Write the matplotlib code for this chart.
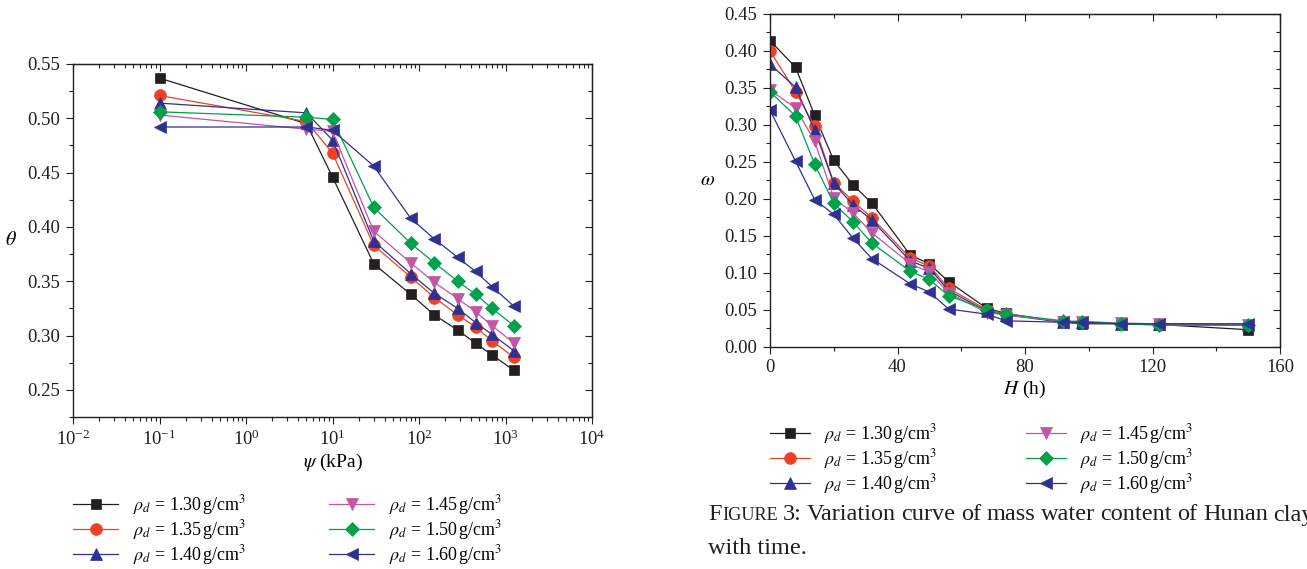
import matplotlib
matplotlib.use("Agg")
import matplotlib.pyplot as plt
from matplotlib.ticker import MultipleLocator, LogLocator, NullFormatter
from matplotlib.lines import Line2D

plt.rcParams['font.family'] = ['Liberation Serif', 'DejaVu Serif']
plt.rcParams['mathtext.fontset'] = 'stix'

# ---------------- data ----------------
labels = ["1.30", "1.35", "1.40", "1.45", "1.50", "1.60"]

# left panel: soil-water characteristic (suction psi in kPa vs theta)
psi = [0.1, 5, 10, 30, 80, 150, 280, 450, 700, 1250]
theta_130 = [0.537, 0.495, 0.446, 0.366, 0.338, 0.319, 0.305, 0.293, 0.282, 0.268]
theta_135 = [0.521, 0.497, 0.468, 0.383, 0.354, 0.335, 0.319, 0.308, 0.295, 0.280]
theta_140 = [0.514, 0.505, 0.480, 0.387, 0.357, 0.339, 0.325, 0.312, 0.301, 0.286]
theta_145 = [0.503, 0.490, 0.488, 0.396, 0.367, 0.349, 0.334, 0.322, 0.309, 0.293]
theta_150 = [0.506, 0.501, 0.499, 0.418, 0.385, 0.367, 0.350, 0.338, 0.325, 0.309]
theta_160 = [0.492, 0.492, 0.489, 0.456, 0.408, 0.389, 0.372, 0.359, 0.345, 0.327]

# right panel: mass water content vs time H (h)
hours = [0, 8, 14, 20, 26, 32, 44, 50, 56, 68, 74, 92, 98, 110, 122, 150]
w_130 = [0.414, 0.378, 0.313, 0.252, 0.219, 0.194, 0.124, 0.112, 0.088, 0.052, 0.045, 0.033, 0.031, 0.031, 0.030, 0.023]
w_135 = [0.400, 0.345, 0.298, 0.222, 0.197, 0.174, 0.120, 0.109, 0.079, 0.050, 0.044, 0.034, 0.033, 0.031, 0.030, 0.029]
w_140 = [0.382, 0.351, 0.293, 0.221, 0.192, 0.171, 0.116, 0.106, 0.076, 0.048, 0.043, 0.033, 0.033, 0.031, 0.031, 0.030]
w_145 = [0.347, 0.323, 0.278, 0.201, 0.181, 0.154, 0.112, 0.101, 0.073, 0.046, 0.043, 0.034, 0.034, 0.032, 0.031, 0.030]
w_150 = [0.345, 0.312, 0.247, 0.194, 0.169, 0.140, 0.102, 0.091, 0.069, 0.050, 0.044, 0.035, 0.034, 0.031, 0.029, 0.029]
w_160 = [0.320, 0.251, 0.199, 0.179, 0.147, 0.119, 0.085, 0.074, 0.051, 0.044, 0.035, 0.033, 0.033, 0.031, 0.031, 0.031]

theta_series = [theta_130, theta_135, theta_140, theta_145, theta_150, theta_160]
w_series = [w_130, w_135, w_140, w_145, w_150, w_160]

colors = ["#231f20", "#ef4123", "#2e3192", "#c255a5", "#00a14b", "#2e3192"]
markers = ["s", "o", "^", "v", "D", "<"]
msizes = [7.5, 8.5, 8.5, 8.5, 7.5, 8.5]

W, H = 1307, 569
fig = plt.figure(figsize=(W / 100, H / 100), dpi=100)

FS = 13.5
INK = '#231f20'


def style_axes(ax):
    ax.tick_params(which='both', direction='out', labelsize=FS, width=0.8,
                   colors=INK, pad=4)
    ax.tick_params(which='major', length=5)
    ax.tick_params(which='minor', length=3)
    for s in ax.spines.values():
        s.set_linewidth(1.0)
        s.set_color(INK)


def mirror(ax, log=False):
    top = ax.secondary_xaxis('top')
    right = ax.secondary_yaxis('right')
    for sec in (top, right):
        sec.tick_params(which='both', direction='in', width=0.8, colors=INK)
        sec.tick_params(which='major', length=5)
        sec.tick_params(which='minor', length=3)
    right.set_yticks(ax.get_yticks())
    right.yaxis.set_major_formatter(NullFormatter())
    right.yaxis.set_minor_locator(ax.yaxis.get_minor_locator())
    right.yaxis.set_minor_formatter(NullFormatter())
    if log:
        top.xaxis.set_major_locator(LogLocator(base=10, numticks=20))
        top.xaxis.set_minor_locator(LogLocator(base=10, subs=range(2, 10), numticks=20))
    else:
        top.set_xticks(ax.get_xticks())
        top.xaxis.set_minor_locator(ax.xaxis.get_minor_locator())
    top.xaxis.set_major_formatter(NullFormatter())
    top.xaxis.set_minor_formatter(NullFormatter())


# ---------------- left panel ----------------
axL = fig.add_axes([73 / W, 1 - 417 / H, (592 - 73) / W, (417 - 64) / H])
for ys, c, m, ms in zip(theta_series, colors, markers, msizes):
    axL.plot(psi, ys, color=c, marker=m, markersize=ms, linewidth=0.9,
             markeredgewidth=0.5, markeredgecolor=c)
axL.set_xscale('log')
axL.set_xlim(1e-2, 1e4)
axL.set_ylim(0.225, 0.55)
axL.xaxis.set_major_locator(LogLocator(base=10, numticks=20))
axL.xaxis.set_minor_locator(LogLocator(base=10, subs=range(2, 10), numticks=20))
axL.xaxis.set_minor_formatter(NullFormatter())
ytL = [0.25, 0.30, 0.35, 0.40, 0.45, 0.50, 0.55]
axL.set_yticks(ytL)
axL.set_yticklabels([f"{v:.2f}" for v in ytL])
axL.yaxis.set_minor_locator(MultipleLocator(0.025))
style_axes(axL)
mirror(axL, log=True)
axL.set_xlabel(r"$\psi$ (kPa)", fontsize=FS + 0.5, labelpad=2)
axL.set_ylabel(r"$\theta$", fontsize=FS + 1, rotation=0, labelpad=12, va='center')

# ---------------- right panel ----------------
axR = fig.add_axes([770 / W, 1 - 346.7 / H, (1280 - 770) / W, (346.7 - 14) / H])
for ys, c, m, ms in zip(w_series, colors, markers, msizes):
    axR.plot(hours, ys, color=c, marker=m, markersize=ms, linewidth=0.9,
             markeredgewidth=0.5, markeredgecolor=c)
axR.set_xlim(0, 160)
axR.set_ylim(0, 0.45)
axR.set_xticks([0, 40, 80, 120, 160])
axR.xaxis.set_minor_locator(MultipleLocator(20))
ytR = [0.00, 0.05, 0.10, 0.15, 0.20, 0.25, 0.30, 0.35, 0.40, 0.45]
axR.set_yticks(ytR)
axR.set_yticklabels([f"{v:.2f}" for v in ytR])
axR.yaxis.set_minor_locator(MultipleLocator(0.025))
style_axes(axR)
mirror(axR)
axR.set_xlabel(r"$H$ (h)", fontsize=FS + 0.5, labelpad=2)
axR.set_ylabel(r"$\omega$", fontsize=FS + 1, rotation=0, labelpad=12, va='center')


# ---------------- legends ----------------
def make_handles():
    return [Line2D([], [], color=c, marker=m, markersize=ms, linewidth=0.9,
                   markeredgewidth=0.5, markeredgecolor=c)
            for c, m, ms in zip(colors, markers, msizes)]


leg_labels = [r"$\rho_d$ = " + lab + r"$\,$g/cm$^3$" for lab in labels]
LFS = 13

fig.legend(make_handles(), leg_labels, ncol=2, loc='upper left',
           bbox_to_anchor=(73 / W, 1 - 493 / H), frameon=False, fontsize=LFS,
           handlelength=2.5, handletextpad=0.8, columnspacing=4.6, labelspacing=0.06,
           borderpad=0, borderaxespad=0)

fig.legend(make_handles(), leg_labels, ncol=2, loc='upper left',
           bbox_to_anchor=(770 / W, 1 - 422 / H), frameon=False, fontsize=LFS,
           handlelength=2.2, handletextpad=0.8, columnspacing=4.9, labelspacing=0.06,
           borderpad=0, borderaxespad=0)

# ---------------- caption (justified first line) ----------------
CFS = 17.5
renderer = fig.canvas.get_renderer()
y1 = 1 - 515 / H
x0 = 708
tF = fig.text(x0 / W, y1, "F", fontsize=CFS, va='center', ha='left', color=INK)
wF = tF.get_window_extent(renderer).width
tI = fig.text((x0 + wF + 0.5) / W, y1 - 0.8 / H, "IGURE", fontsize=CFS * 0.75,
              va='center', ha='left', color=INK)
wI = tI.get_window_extent(renderer).width
words = ["3:", "Variation", "curve", "of", "mass", "water", "content", "of", "Hunan", "clay"]
start = x0 + wF + 0.5 + wI
last_start = 1268.0
widths = []
for wd in words:
    t = fig.text(0, 0, wd, fontsize=CFS)
    widths.append(t.get_window_extent(renderer).width)
    t.remove()
first_gap = 5.0
gap = (last_start - start - first_gap - sum(widths[:-1])) / (len(words) - 2)
xpos = start + first_gap
for wd, wdw in zip(words, widths):
    fig.text(xpos / W, y1, wd, fontsize=CFS, va='center', ha='left', color=INK)
    xpos += wdw + gap

fig.text(x0 / W, 1 - 548 / H, "with time.", fontsize=CFS, va='center', ha='left', color=INK)

fig.savefig("out.png", dpi=100)
